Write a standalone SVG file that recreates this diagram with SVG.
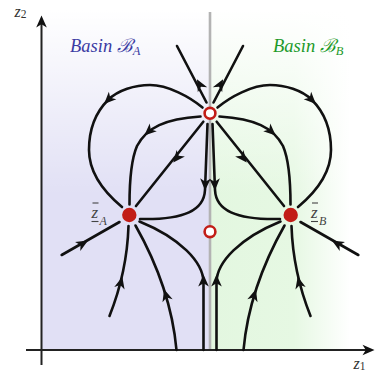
<svg xmlns="http://www.w3.org/2000/svg" xmlns:xlink="http://www.w3.org/1999/xlink" width="382" height="374" viewBox="0 0 382 374">
<style>
.flow{fill:none;stroke:#111;stroke-width:2.6;stroke-linecap:round}
.axis{fill:none;stroke:#222;stroke-width:2}
.ah{fill:#111}
.sink{fill:#c21d17}
.src{fill:#fff;stroke:#c21d17;stroke-width:2.6}
.lbl{font-family:"Liberation Serif","DejaVu Serif",serif;font-style:italic}
.ax{font-family:"Liberation Serif","DejaVu Serif",serif;font-style:italic;fill:#333}
.bar{stroke:#444;stroke-width:1.1}
</style>
<defs>
<linearGradient id="gB" x1="210" y1="0" x2="350" y2="0" gradientUnits="userSpaceOnUse">
<stop offset="0" stop-color="#e3f7e0"/>
<stop offset="0.6" stop-color="#e6f8e3"/>
<stop offset="1" stop-color="#ffffff"/>
</linearGradient>
<linearGradient id="gTop" x1="0" y1="10" x2="0" y2="195" gradientUnits="userSpaceOnUse">
<stop offset="0" stop-color="#ffffff" stop-opacity="1"/>
<stop offset="1" stop-color="#ffffff" stop-opacity="0"/>
</linearGradient>
<path id="ah" d="M5.5,0 L-6.5,-5.3 L-3.2,0 L-6.5,5.3 Z"/>
</defs>

<g id="background">
<rect x="42" y="10" width="168" height="340" fill="#e1e0f5"/>
<rect x="210" y="10" width="140" height="340" fill="url(#gB)"/>
<rect x="42" y="10" width="330" height="185" fill="url(#gTop)"/>
<line x1="210" y1="12" x2="210" y2="350" stroke="#b3b3b3" stroke-width="2.6"/>
</g>

<g id="axes">
<line class="axis" x1="41.5" y1="365" x2="41.5" y2="21"/>
<line class="axis" x1="26" y1="350" x2="369" y2="350"/>
<use xlink:href="#ah" class="ah" fill="#222" transform="translate(41.5,21) rotate(-90)"/>
<use xlink:href="#ah" class="ah" fill="#222" transform="translate(369,350)"/>
<text class="ax" x="14.5" y="17" font-size="16">z<tspan font-size="11.5" font-style="normal" dy="1">2</tspan></text>
<text class="ax" x="353.5" y="369" font-size="16">z<tspan font-size="11.5" font-style="normal" dy="1">1</tspan></text>
</g>

<g id="connectors">
<!-- left half -->
<path class="flow" d="M206.5,102.5 L177,46"/>
<path class="flow" d="M202.5,107.5 C190,97 168,85 150,85 C135,85 118,90 108,100 C96,112 89,130 89,150 C89,172 104,192 122,207"/>
<path class="flow" d="M200.5,116.5 C165,119 147,127 137,146 C131,160 129.5,180 129.5,204.5"/>
<path class="flow" d="M203.3,121.7 L136,206"/>
<path class="flow" d="M207.5,124 C206.5,150 205.5,175 205,190 C204,210 185,220 140,219"/>
<path class="flow" d="M203.5,350 L203.5,282 C203,262 180,238 139.5,221.5"/>
<path class="flow" d="M176.5,350 C172,300 155,260 135.5,225.5"/>
<path class="flow" d="M61.7,255 L119.5,222"/>
<path class="flow" d="M109.5,316 Q127,272 128.5,226"/>
<!-- right half -->
<path class="flow" d="M213.5,102.5 L243,46"/>
<path class="flow" d="M217.5,107.5 C230,97 252,85 270,85 C285,85 302,90 312,100 C324,112 331,130 331,150 C331,172 316,192 298,207"/>
<path class="flow" d="M219.5,116.5 C255,119 273,127 283,146 C289,160 290.5,180 290.5,204.5"/>
<path class="flow" d="M216.7,121.7 L284,206"/>
<path class="flow" d="M212.5,124 C213.5,150 214.5,175 215,190 C216,210 235,220 280,219"/>
<path class="flow" d="M216.5,350 L216.5,282 C217,262 240,238 280.5,221.5"/>
<path class="flow" d="M243.5,350 C248,300 265,260 284.5,225.5"/>
<path class="flow" d="M358.3,255 L300.5,222"/>
<path class="flow" d="M310.5,316 Q293,272 291.5,226"/>
<!-- arrowheads -->
<use xlink:href="#ah" class="ah" transform="translate(199.5,84) rotate(-117.6)"/>
<use xlink:href="#ah" class="ah" transform="translate(220.5,84) rotate(-62.4)"/>
<use xlink:href="#ah" class="ah" transform="translate(108,100) rotate(135)"/>
<use xlink:href="#ah" class="ah" transform="translate(312,100) rotate(45)"/>
<use xlink:href="#ah" class="ah" transform="translate(148.4,131.7) rotate(138)"/>
<use xlink:href="#ah" class="ah" transform="translate(271.6,131.7) rotate(42)"/>
<use xlink:href="#ah" class="ah" transform="translate(176.7,158.3) rotate(128.6)"/>
<use xlink:href="#ah" class="ah" transform="translate(243.3,158.3) rotate(51.4)"/>
<use xlink:href="#ah" class="ah" transform="translate(205.2,185) rotate(92)"/>
<use xlink:href="#ah" class="ah" transform="translate(214.8,185) rotate(88)"/>
<use xlink:href="#ah" class="ah" transform="translate(203.5,280) rotate(-90)"/>
<use xlink:href="#ah" class="ah" transform="translate(216.5,280) rotate(-90)"/>
<use xlink:href="#ah" class="ah" transform="translate(165.7,294.5) rotate(-106.8)"/>
<use xlink:href="#ah" class="ah" transform="translate(254.3,294.5) rotate(-73.2)"/>
<use xlink:href="#ah" class="ah" transform="translate(83.3,243.3) rotate(-29.7)"/>
<use xlink:href="#ah" class="ah" transform="translate(336.7,243.3) rotate(-150.3)"/>
<use xlink:href="#ah" class="ah" transform="translate(121,282) rotate(-76)"/>
<use xlink:href="#ah" class="ah" transform="translate(299,282) rotate(-104)"/>
</g>

<g id="node-saddle-top">
<circle class="src" cx="210" cy="113.3" r="5.4"/>
</g>
<g id="node-saddle-mid">
<circle class="src" cx="210" cy="231.7" r="5.4"/>
</g>
<g id="node-zA">
<circle class="sink" cx="129.3" cy="215" r="7.2"/>
<line class="bar" x1="92.5" y1="203" x2="98.5" y2="203"/>
<text class="lbl" x="91.5" y="218" font-size="17" fill="#444">z</text>
<line class="bar" x1="91.5" y1="221.5" x2="98.5" y2="221.5"/>
<text class="lbl" x="99.5" y="224.5" font-size="12" fill="#444">A</text>
</g>
<g id="node-zB">
<circle class="sink" cx="290.7" cy="215" r="7.2"/>
<line class="bar" x1="312" y1="203" x2="318" y2="203"/>
<text class="lbl" x="311" y="218" font-size="17" fill="#444">z</text>
<line class="bar" x1="311" y1="221.5" x2="318" y2="221.5"/>
<text class="lbl" x="319" y="224.5" font-size="12" fill="#444">B</text>
</g>

<g id="label-basinA">
<text class="lbl" x="70" y="52" font-size="18.5" fill="#3b3ba3">Basin ℬ<tspan font-size="12.5" dy="3">A</tspan></text>
</g>
<g id="label-basinB">
<text class="lbl" x="273" y="52" font-size="18.5" fill="#1d9a2a">Basin ℬ<tspan font-size="12.5" dy="3">B</tspan></text>
</g>
</svg>
